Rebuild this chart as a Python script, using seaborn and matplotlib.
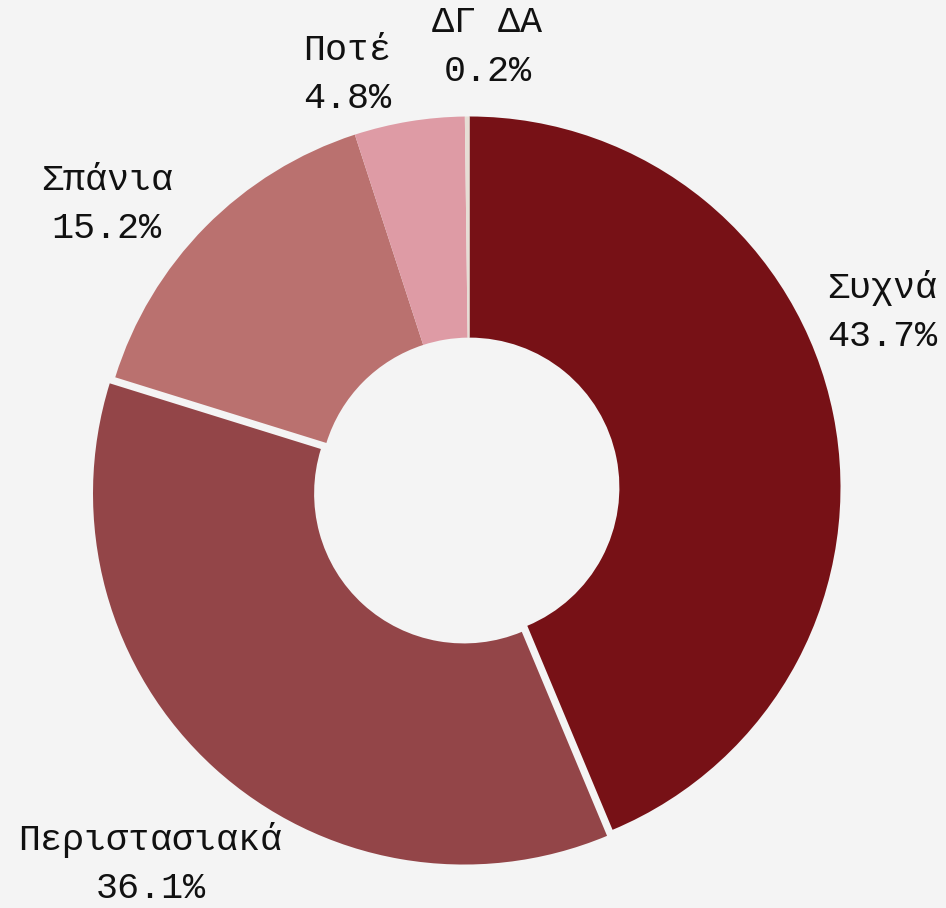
import numpy as np
import matplotlib
matplotlib.use("Agg")
import matplotlib.pyplot as plt
import seaborn as sns

# Data
categories = ["Συχνά", "Περιστασιακά", "Σπάνια", "Ποτέ", "ΔΓ ΔΑ"]
values = [43.7, 36.1, 15.2, 4.8, 0.2]
colors = ["#771116", "#934548", "#ba716f", "#de9ba5", "#e6ded5"]
explode = [0, 0.022, 0, 0, 0]

# label placement styling (angle shift in degrees, distance in radii)
label_shift = [11.7, 2.0, 6.7, 7.2, -2.7]
label_dist = [1.208, 1.33, 1.24, 1.162, 1.188]

sns.set_theme(style="white")
bg = "#f4f4f4"
plt.rcParams["font.family"] = ["Liberation Mono", "DejaVu Sans Mono"]

W, H, dpi = 946, 908, 100
fig = plt.figure(figsize=(W / dpi, H / dpi), dpi=dpi, facecolor=bg)
ax = fig.add_axes([0, 0, 1, 1])
ax.set_facecolor(bg)

wedges, _ = ax.pie(values, colors=colors, explode=explode, startangle=90,
                   counterclock=False, radius=1.0,
                   wedgeprops=dict(width=0.596, linewidth=0))

cx, cy, R = 469.5, 487.5, 371.0
ax.set_xlim(-cx / R, (W - cx) / R)
ax.set_ylim(-(H - cy) / R, cy / R)
ax.set_aspect("auto")
ax.axis("off")

total = sum(values)
for w, cat, v, sh, d in zip(wedges, categories, values, label_shift, label_dist):
    mid = 0.5 * (w.theta1 + w.theta2) + sh
    x = d * np.cos(np.deg2rad(mid))
    y = d * np.sin(np.deg2rad(mid))
    ax.text(x, y, f"{cat}\n{v / total * 100:.1f}%", ha="center", va="center",
            multialignment="center", fontsize=26.5, color="#111111", linespacing=1.5)

fig.savefig("out.png", dpi=dpi, facecolor=bg)
